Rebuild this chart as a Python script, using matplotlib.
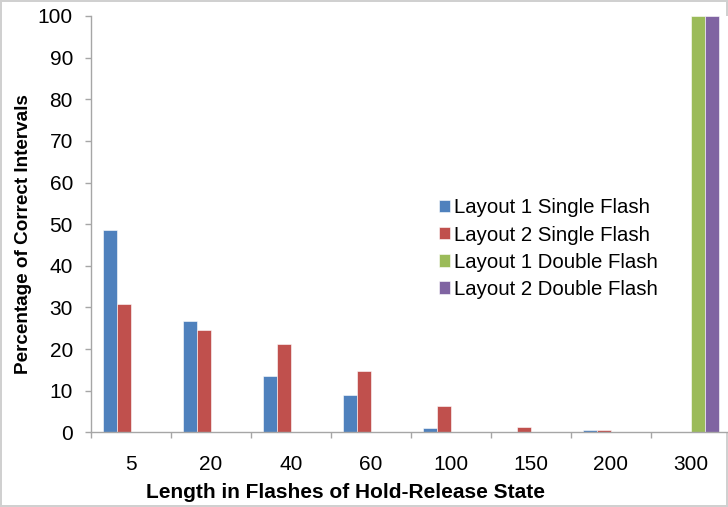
import matplotlib
matplotlib.use("Agg")
import matplotlib.pyplot as plt
import numpy as np
from matplotlib.ticker import FixedLocator

plt.rcParams['font.family'] = ['Liberation Sans', 'DejaVu Sans']

categories = ["5", "20", "40", "60", "100", "150", "200", "300"]
layout1_single = [48.7, 26.8, 13.5, 9.0, 1.1, 0.0, 0.65, 0.0]
layout2_single = [30.9, 24.5, 21.2, 14.8, 6.3, 1.35, 0.6, 0.0]
layout1_double = [0, 0, 0, 0, 0, 0, 0, 100]
layout2_double = [0, 0, 0, 0, 0, 0, 0, 100]
series_names = ["Layout 1 Single Flash", "Layout 2 Single Flash",
                "Layout 1 Double Flash", "Layout 2 Double Flash"]
colors = ["#4F81BD", "#C0504D", "#9BBB59", "#8064A2"]

W, H = 728, 507
fig = plt.figure(figsize=(W / 100, H / 100), dpi=100)
fig.patch.set_edgecolor("#d0d0d0")
fig.patch.set_linewidth(1.5)

left_px, right_px, top_px, bot_px = 91, 731, 16, 432.3
ax = fig.add_axes([left_px / W, 1 - bot_px / H, (right_px - left_px) / W, (bot_px - top_px) / H])

x = np.arange(len(categories))
w = 0.175
all_series = [layout1_single, layout2_single, layout1_double, layout2_double]
for i, (vals, name, c) in enumerate(zip(all_series, series_names, colors)):
    ax.bar(x + (i - 1.5) * w, vals, width=w, color=c, label=name,
           edgecolor="white", linewidth=0.4)

ax.set_xlim(-0.5, len(categories) - 0.5)
ax.set_ylim(0, 100)
ax.set_yticks(np.arange(0, 101, 10))
ax.set_xticks(x)
ax.set_xticklabels(categories)
ax.xaxis.set_minor_locator(FixedLocator(np.arange(-0.5, len(categories), 1.0)))

spine_color = "#a6a6a6"
for s in ["top", "right"]:
    ax.spines[s].set_visible(False)
for s in ["left", "bottom"]:
    ax.spines[s].set_color(spine_color)
    ax.spines[s].set_linewidth(1.0)

ax.tick_params(axis="y", which="major", direction="out", length=4, width=1,
               color=spine_color, pad=9, labelsize=15, labelcolor="black")
ax.tick_params(axis="x", which="major", length=0, pad=16, labelsize=15,
               labelcolor="black")
ax.tick_params(axis="x", which="minor", direction="out", length=4.5, width=1,
               color=spine_color)

ax.set_xlabel("Length in Flashes of Hold-Release State", fontsize=15,
              fontweight="bold", labelpad=6)
ax.xaxis.set_label_coords(0.398, -0.122)
ax.set_ylabel("Percentage of Correct Intervals", fontsize=13.6,
              fontweight="bold")
ax.yaxis.set_label_coords(-0.092, 0.476)

leg = ax.legend(loc="upper left", bbox_to_anchor=(0.544, 0.562),
                frameon=False, fontsize=14.7, handlelength=0.55, handleheight=0.55,
                handletextpad=0.2, labelspacing=0.4, borderaxespad=0, borderpad=0)

fig.savefig("out.png", dpi=100)
